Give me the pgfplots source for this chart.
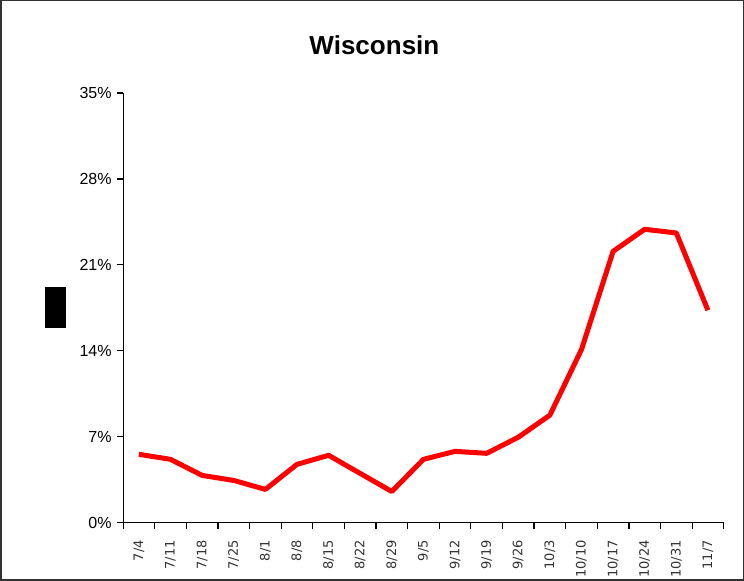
\documentclass[border=0pt]{standalone}
\usepackage{pgfplots}
\pgfplotsset{compat=1.18}
\usepackage{fontspec}
\setmainfont{Liberation Sans}
\newfontfamily\dejavu{DejaVu Sans}
\begin{document}
\begin{tikzpicture}[x=1pt,y=1pt]
\draw[line width=1.5pt, black!80] (0.75,0.75) rectangle (742.5,579.25);
\fill[black] (45,252) rectangle (66,293);
\node[font=\bfseries\fontsize{26}{26}\selectfont] at (374,535) {Wisconsin};
\begin{axis}[
  at={(123pt,58pt)}, anchor=south west,
  scale only axis, width=600pt, height=429pt,
  xmin=-0.5, xmax=18.5, ymin=0, ymax=35,
  axis x line*=bottom, axis y line*=left,
  axis line style={line width=1.2pt,-},
  every tick/.style={black, line width=1.2pt},
  every minor tick/.style={black, line width=1.2pt},
  tick align=outside,
  ytick={0,7,14,21,28,35},
  yticklabel={\pgfmathprintnumber{\tick}\%},
  /pgf/number format/assume math mode=true,
  y tick label style={font=\fontsize{16}{16}\selectfont, xshift=-2pt},
  major tick length=6pt, minor tick length=6pt,
  xtick={0,...,18},
  xticklabels={7/4,7/11,7/18,7/25,8/1,8/8,8/15,8/22,8/29,9/5,9/12,9/19,9/26,10/3,10/10,10/17,10/24,10/31,11/7},
  minor xtick={-0.5,0.5,1.5,2.5,3.5,4.5,5.5,6.5,7.5,8.5,9.5,10.5,11.5,12.5,13.5,14.5,15.5,16.5,17.5,18.5},
  major x tick style={draw=none},
  x tick label style={rotate=90, anchor=east, font=\dejavu\fontsize{13}{13}\selectfont, text=black!80, xshift=-8pt},
  clip=false,
]
\addplot[red, line width=5pt, line join=round] coordinates {
(0,5.56) (1,5.15) (2,3.84) (3,3.43) (4,2.70) (5,4.74) (6,5.48) (7,4.0) (8,2.53)
(9,5.15) (10,5.8) (11,5.64) (12,6.95) (13,8.75) (14,14.1) (15,22.1) (16,23.9) (17,23.6) (18,17.3)
};
\end{axis}
\end{tikzpicture}
\end{document}
